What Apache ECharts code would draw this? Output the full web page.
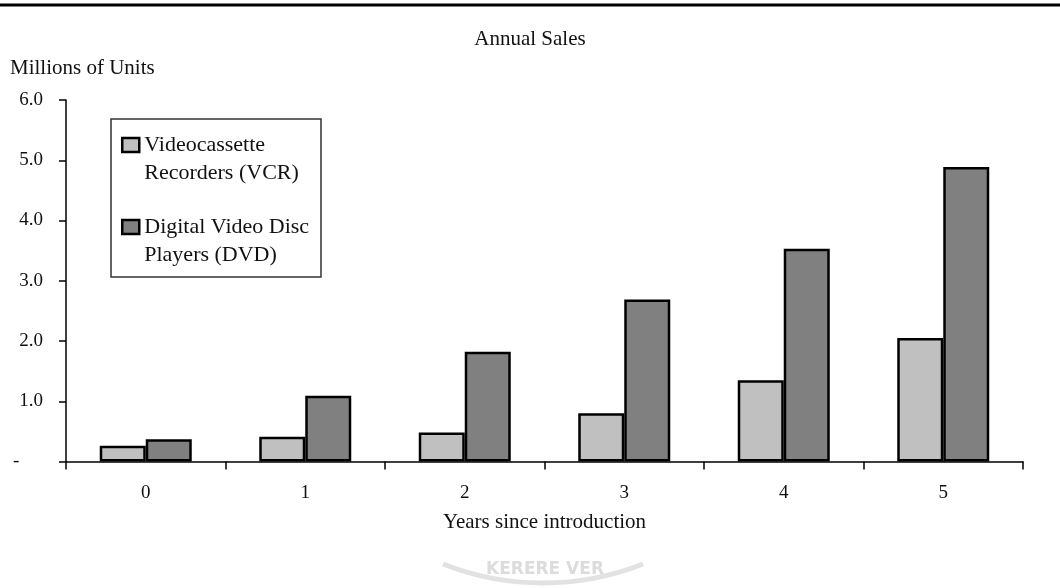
<!DOCTYPE html>
<html>
<head>
<meta charset="utf-8">
<script src="https://cdn.jsdelivr.net/npm/echarts@6/dist/echarts.min.js"></script>
<style>
  html, body { margin: 0; padding: 0; background: #fff; }
  #main { width: 1060px; height: 588px; }
</style>
</head>
<body>
<div id="main"></div>
<script>
// 数据
var years = ['0', '1', '2', '3', '4', '5'];
var vcrSales = [0.26, 0.41, 0.48, 0.80, 1.35, 2.05];
var dvdSales = [0.37, 1.09, 1.82, 2.69, 3.53, 4.89];
var seriesNames = ['Videocassette\nRecorders (VCR)', 'Digital Video Disc\nPlayers (DVD)'];

var serif = 'Liberation Serif, Times New Roman, serif';
var ink = '#111';

var myChart = echarts.init(document.getElementById('main'));
var option = {
    backgroundColor: '#fff',
    animation: false,
    title: [
        {
            text: 'Annual Sales',
            left: 'center',
            top: 29,
            padding: 0,
            textStyle: { fontFamily: serif, fontSize: 21, fontWeight: 'normal', color: ink }
        },
        {
            text: 'Millions of Units',
            left: 10,
            top: 58,
            padding: 0,
            textStyle: { fontFamily: serif, fontSize: 21, fontWeight: 'normal', color: ink }
        }
    ],
    legend: {
        orient: 'vertical',
        left: 121,
        top: 103,
        padding: 0,
        itemWidth: 17,
        itemHeight: 14,
        itemGap: -2,
        icon: 'rect',
        itemStyle: { borderColor: '#000', borderWidth: 2.5 },
        // 首行对齐图标：前面加一个空行
        formatter: function (name) {
            return '\n' + name;
        },
        textStyle: {
            fontFamily: serif,
            fontSize: 22,
            color: ink,
            lineHeight: 28
        },
        data: seriesNames
    },
    grid: {
        left: 66,
        right: 37,
        top: 100,
        bottom: 126.5,
        containLabel: false
    },
    xAxis: {
        type: 'category',
        data: years,
        name: 'Years since introduction',
        nameLocation: 'middle',
        nameGap: 50,
        nameTextStyle: { fontFamily: serif, fontSize: 21, color: ink },
        axisLine: { lineStyle: { color: '#000', width: 1.5 } },
        axisTick: { show: true, interval: 0, length: 8, lineStyle: { color: '#000', width: 1.5 } },
        axisLabel: { fontFamily: serif, fontSize: 19, color: ink, margin: 22 }
    },
    yAxis: {
        type: 'value',
        min: 0,
        max: 6,
        interval: 1,
        splitLine: { show: false },
        axisLine: { show: true, lineStyle: { color: '#000', width: 1.5 } },
        axisTick: { show: true, length: 7, lineStyle: { color: '#000', width: 1.5 } },
        axisLabel: {
            fontFamily: serif,
            fontSize: 19,
            color: ink,
            margin: 23,
            padding: [4, 0, 0, 0],
            formatter: function (v) {
                return v === 0 ? '-     ' : v.toFixed(1);
            }
        }
    },
    series: [
        {
            name: seriesNames[0],
            type: 'bar',
            data: vcrSales,
            barWidth: 46,
            barGap: '0%',
            itemStyle: { color: '#c0c0c0', borderColor: '#000', borderWidth: 2.5 }
        },
        {
            name: seriesNames[1],
            type: 'bar',
            data: dvdSales,
            barWidth: 46,
            barGap: '0%',
            itemStyle: { color: '#808080', borderColor: '#000', borderWidth: 2.5 }
        }
    ],
    graphic: [
        // 顶部粗线
        {
            type: 'line',
            shape: { x1: 0, y1: 5, x2: 1060, y2: 5 },
            style: { stroke: '#000', lineWidth: 3 }
        },
        // 图例外框
        {
            type: 'rect',
            shape: { x: 111, y: 119, width: 210, height: 158 },
            style: { fill: 'none', stroke: '#333', lineWidth: 1.5 },
            z: 100
        },
        // 底部水印
        {
            type: 'arc',
            shape: { cx: 543, cy: 310, r: 273, startAngle: 68.5 * Math.PI / 180, endAngle: 111.5 * Math.PI / 180 },
            style: { fill: 'none', stroke: '#e2e2e2', lineWidth: 5 },
            silent: true
        },
        {
            type: 'text',
            left: 486,
            top: 561,
            style: { text: 'KERERE VER', fill: '#dcdcdc', font: 'bold 17px DejaVu Sans' },
            silent: true
        }
    ]
};
myChart.setOption(option);
</script>
</body>
</html>
